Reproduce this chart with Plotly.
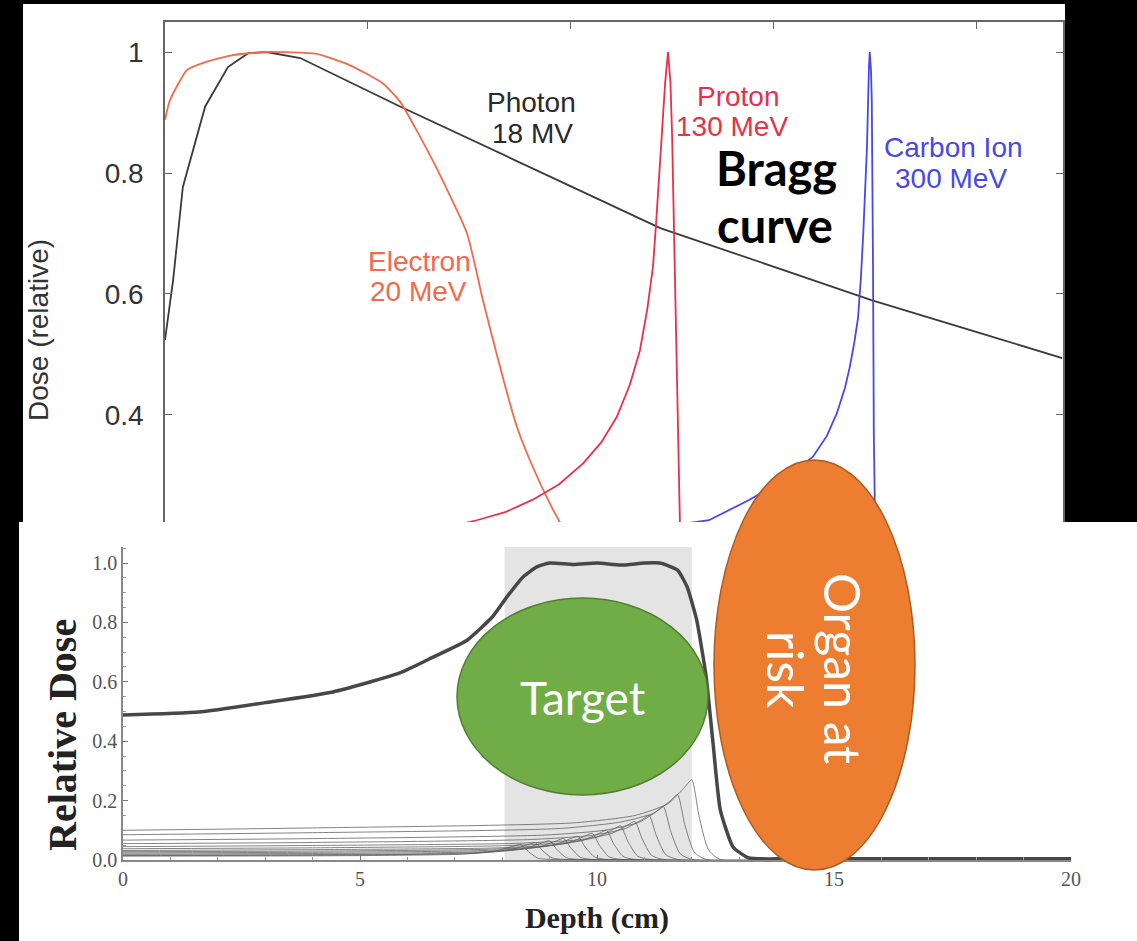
import plotly.graph_objects as go

W, H = 1137, 941

# ---------------- top chart data (depth in cm, relative dose) ----------------
photon_x = [0, 0.2, 0.44, 0.99, 1.55, 2.05, 2.5, 3.33, 5.79, 8.0, 10.0, 12.2, 15.0, 17.4, 20.0, 22.1]
photon_y = [0.524, 0.623, 0.777, 0.91, 0.975, 0.998, 1.0, 0.99, 0.91, 0.84, 0.778, 0.709, 0.645, 0.59, 0.537, 0.494]

electron_x = [0, 0.12, 0.54, 1.03, 1.67, 2.5, 3.74, 4.56, 5.37, 5.79, 6.6, 7.44, 7.83, 8.25, 8.67, 9.06, 9.56, 10.0, 10.5, 11.0, 12.0, 22.1]
electron_y = [0.888, 0.92, 0.97, 0.984, 0.995, 1.0, 0.997, 0.978, 0.948, 0.918, 0.82, 0.70, 0.59, 0.48, 0.38, 0.314, 0.243, 0.19, 0.12, 0.07, 0.03, 0.02]

proton_x = [0, 4, 7, 7.68, 8.4, 9.06, 9.7, 10.3, 10.75, 11.13, 11.45, 11.7, 11.88, 12.02, 12.1, 12.19, 12.26, 12.32, 12.39, 12.45, 12.49, 12.56, 12.64, 12.68, 12.75, 22.1]
proton_y = [0.18, 0.195, 0.215, 0.226, 0.24, 0.26, 0.285, 0.32, 0.355, 0.397, 0.45, 0.507, 0.575, 0.645, 0.72, 0.81, 0.885, 0.949, 1.0, 0.95, 0.866, 0.645, 0.37, 0.226, 0.0, 0.0]

carbon_x = [0, 6, 10, 13.4, 14.4, 15.3, 15.96, 16.3, 16.55, 16.75, 16.87, 16.98, 17.07, 17.14, 17.2, 17.25, 17.29, 17.34, 17.36, 17.39, 17.41, 17.44, 17.46, 17.49, 17.55, 22.1]
carbon_y = [0.16, 0.175, 0.195, 0.226, 0.26, 0.295, 0.331, 0.365, 0.403, 0.445, 0.48, 0.52, 0.56, 0.625, 0.70, 0.77, 0.84, 0.975, 1.0, 0.97, 0.92, 0.645, 0.37, 0.226, 0.1, 0.08]

top_ticks = [0.4, 0.6, 0.8, 1.0]
top_ticktext = ["0.4", "0.6", "0.8", "1"]
top_xticks = [0, 5, 10, 15, 20]

# ---------------- bottom chart data (SOBP) ----------------
sobp_x = [0, 1.6, 3.0, 4.43, 5.84, 6.54, 7.26, 7.8, 8.1, 8.44, 8.73, 9.0, 9.5, 10.0, 10.5, 11.0, 11.33, 11.7, 11.9, 12.1, 12.3, 12.45, 12.6, 12.87, 13.2, 14.0, 20.0]
sobp_y = [0.488, 0.498, 0.53, 0.566, 0.63, 0.683, 0.74, 0.82, 0.886, 0.953, 0.987, 1.0, 0.995, 1.0, 0.993, 1.0, 1.0, 0.976, 0.92, 0.81, 0.62, 0.39, 0.17, 0.044, 0.007, 0.004, 0.004]

pristine_x = [
    [0, 4, 9.5, 10.8, 11.5, 11.85, 12.0, 12.15, 12.35, 12.6, 20],
    [0, 4, 9.2, 10.5, 11.2, 11.55, 11.7, 11.85, 12.05, 12.3, 20],
    [0, 4, 8.9, 10.2, 10.9, 11.25, 11.4, 11.55, 11.75, 12.0, 20],
    [0, 4, 8.6, 9.9, 10.6, 10.95, 11.1, 11.25, 11.45, 11.7, 20],
    [0, 4, 8.3, 9.6, 10.3, 10.65, 10.8, 10.95, 11.15, 11.4, 20],
    [0, 4, 8.0, 9.3, 10.0, 10.35, 10.5, 10.65, 10.85, 11.1, 20],
    [0, 4, 7.7, 9.0, 9.7, 10.05, 10.2, 10.35, 10.55, 10.8, 20],
    [0, 4, 7.4, 8.7, 9.4, 9.75, 9.9, 10.05, 10.25, 10.5, 20],
    [0, 4, 7.1, 8.4, 9.1, 9.45, 9.6, 9.75, 9.95, 10.2, 20],
    [0, 4, 6.8, 8.1, 8.8, 9.15, 9.3, 9.45, 9.65, 9.9, 20],
    [0, 4, 6.5, 7.8, 8.5, 8.85, 9.0, 9.15, 9.35, 9.6, 20],
    [0, 4, 6.2, 7.5, 8.2, 8.55, 8.7, 8.85, 9.05, 9.3, 20],
    [0, 4, 5.9, 7.2, 7.9, 8.25, 8.4, 8.55, 8.75, 9.0, 20],
]
pristine_y = [
    [0.100, 0.108, 0.125, 0.150, 0.190, 0.245, 0.270, 0.150, 0.035, 0.002, 0.002],
    [0.085, 0.092, 0.106, 0.128, 0.158, 0.200, 0.220, 0.120, 0.027, 0.002, 0.002],
    [0.067, 0.072, 0.084, 0.101, 0.128, 0.163, 0.180, 0.099, 0.022, 0.002, 0.002],
    [0.055, 0.059, 0.069, 0.083, 0.106, 0.136, 0.150, 0.083, 0.018, 0.002, 0.002],
    [0.045, 0.049, 0.056, 0.068, 0.089, 0.118, 0.130, 0.072, 0.016, 0.002, 0.002],
    [0.038, 0.041, 0.048, 0.058, 0.077, 0.104, 0.115, 0.063, 0.014, 0.002, 0.002],
    [0.032, 0.035, 0.040, 0.049, 0.066, 0.090, 0.100, 0.055, 0.012, 0.002, 0.002],
    [0.028, 0.030, 0.035, 0.043, 0.058, 0.081, 0.090, 0.050, 0.011, 0.002, 0.002],
    [0.024, 0.026, 0.030, 0.037, 0.051, 0.072, 0.080, 0.044, 0.010, 0.002, 0.002],
    [0.020, 0.022, 0.025, 0.031, 0.045, 0.065, 0.072, 0.040, 0.009, 0.002, 0.002],
    [0.017, 0.018, 0.021, 0.027, 0.040, 0.058, 0.065, 0.036, 0.008, 0.002, 0.002],
    [0.015, 0.016, 0.019, 0.023, 0.036, 0.052, 0.058, 0.032, 0.007, 0.002, 0.002],
    [0.013, 0.014, 0.016, 0.020, 0.032, 0.047, 0.052, 0.029, 0.006, 0.002, 0.002],
]

target_zone = [8.05, 12.0]
bottom_xticks = [0, 5, 10, 15, 20]
bottom_yticks = [0.0, 0.2, 0.4, 0.6, 0.8, 1.0]
bottom_ticktext = ["0.0", "0.2", "0.4", "0.6", "0.8", "1.0"]


def px(x):
    return x / W


def py(y):
    return 1 - y / H


fig = go.Figure()

# top chart traces
for xs, ys, col, shape in [
    (photon_x, photon_y, "#3a3a3a", "linear"),
    (electron_x, electron_y, "#f2694c", "spline"),
    (proton_x, proton_y, "#e8304a", "linear"),
    (carbon_x, carbon_y, "#4848e8", "linear"),
]:
    fig.add_trace(go.Scatter(x=xs, y=ys, mode="lines", xaxis="x", yaxis="y",
                             line=dict(color=col, width=1.8, shape=shape, smoothing=0.5),
                             hoverinfo="skip"))

# bottom chart: pristine peaks
for xs, ys in zip(pristine_x, pristine_y):
    fig.add_trace(go.Scatter(x=xs, y=ys, mode="lines", xaxis="x2", yaxis="y2",
                             line=dict(color="rgba(90,90,90,0.75)", width=1, shape="spline", smoothing=0.6),
                             hoverinfo="skip"))
fig.add_trace(go.Scatter(x=sobp_x, y=sobp_y, mode="lines", xaxis="x2", yaxis="y2",
                         line=dict(color="#474747", width=3.5, shape="spline", smoothing=0.5),
                         hoverinfo="skip"))

shapes = [
    # white panels
    dict(type="rect", xref="paper", yref="paper", x0=px(23), x1=px(1065), y0=py(522), y1=py(4),
         fillcolor="white", line=dict(width=0), layer="below"),
    dict(type="rect", xref="paper", yref="paper", x0=px(19), x1=1, y0=0, y1=py(522),
         fillcolor="white", line=dict(width=0), layer="below"),
    # shaded target zone in SOBP chart
    dict(type="rect", xref="x2", yref="y2", x0=target_zone[0], x1=target_zone[1], y0=0, y1=1.054,
         fillcolor="#e4e4e4", line=dict(width=0), layer="below"),
    # overlays
    dict(type="circle", xref="paper", yref="paper", x0=px(457), x1=px(708), y0=py(795), y1=py(598),
         fillcolor="#70AD47", line=dict(color="#507E32", width=1.5), layer="above"),
    dict(type="circle", xref="paper", yref="paper", x0=px(714), x1=px(915), y0=py(870), y1=py(460),
         fillcolor="#ED7D31", line=dict(color="#AE5A21", width=1.5), layer="above"),
]

sans = "Liberation Sans, Arial, sans-serif"
serif = "Liberation Serif, Times New Roman, serif"
ann = []


def label(text, x, y, size, color, family=sans, angle=0):
    ann.append(dict(text=text, x=px(x), y=py(y), xref="paper", yref="paper", showarrow=False,
                    xanchor="center", yanchor="middle", textangle=angle,
                    font=dict(family=family, size=size, color=color)))


label("Photon", 531, 102, 28, "#2a2a2a")
label("18 MV", 532, 133, 28, "#2a2a2a")
label("Proton", 739, 96, 28, "#e8304a")
label("130 MeV", 732, 126, 28, "#e8304a")
label("Electron", 419, 261, 28, "#f2694c")
label("20 MeV", 418, 291, 28, "#f2694c")
label("Carbon Ion", 953, 148, 28, "#4848e8")
label("300 MeV", 951, 178, 28, "#4848e8")
label("<b>Bragg</b>", 776, 168, 47, "black", family="Lato, Calibri, sans-serif")
label("<b>curve</b>", 775, 225, 47, "black", family="Lato, Calibri, sans-serif")
label("Target", 583, 697, 46, "white", family="Lato, Calibri, sans-serif")
label("Organ at", 843, 668, 50, "white", family="Lato, Calibri, sans-serif", angle=90)
label("risk", 786, 670, 50, "white", family="Lato, Calibri, sans-serif", angle=90)
# axis titles placed as in the reference
label("Dose (relative)", 38, 330, 28, "#333", angle=-90)
label("<b>Relative Dose</b>", 62, 735, 40, "#222", family=serif, angle=-90)

fig.update_layout(
    width=W, height=H, margin=dict(l=0, r=0, t=0, b=0, autoexpand=False),
    paper_bgcolor="black", plot_bgcolor="white", showlegend=False,
    shapes=shapes, annotations=ann,
    xaxis=dict(domain=[px(165), px(1063)], range=[0, 22.12], anchor="y", side="top",
               showline=True, linecolor="#666", linewidth=1.5, mirror=False, automargin=False,
               ticks="inside", ticklen=7, tickcolor="#666", tickvals=top_xticks,
               showticklabels=False, showgrid=False, zeroline=False),
    yaxis=dict(domain=[py(522), py(22)], range=[0.2231, 1.0496], anchor="x",
               showline=True, linecolor="#666", linewidth=1.5, mirror="ticks", automargin=False,
               ticks="inside", ticklen=7, tickcolor="#666",
               tickvals=top_ticks, ticktext=top_ticktext, ticklabelstandoff=14,
               tickfont=dict(family=sans, size=28, color="#333"),
               showgrid=False, zeroline=False),
    xaxis2=dict(domain=[px(123), px(1071)], range=[0, 20], anchor="y2", automargin=False,
                showline=True, linecolor="#888", linewidth=1.5,
                ticks="inside", ticklen=5, tickcolor="#777", tickvals=bottom_xticks,
                minor=dict(ticks="inside", ticklen=3, dtick=1, tickcolor="#999"),
                tickfont=dict(family=serif, size=20, color="#555"),
                showgrid=False, zeroline=False,
                title=dict(text="<b>Depth (cm)</b>", font=dict(family=serif, size=30, color="#222"), standoff=18)),
    yaxis2=dict(domain=[py(860), py(547)], range=[0, 1.054], anchor="x2", automargin=False,
                showline=True, linecolor="#888", linewidth=1.5,
                ticks="inside", ticklen=5, tickcolor="#777",
                tickvals=bottom_yticks, ticktext=bottom_ticktext,
                minor=dict(ticks="inside", ticklen=3, dtick=0.05, tickcolor="#999"),
                tickfont=dict(family=serif, size=20, color="#555"),
                showgrid=False, zeroline=False),
)

fig.write_html("out.html", config={"displayModeBar": False},
               post_script="document.body.style.margin='0';")
